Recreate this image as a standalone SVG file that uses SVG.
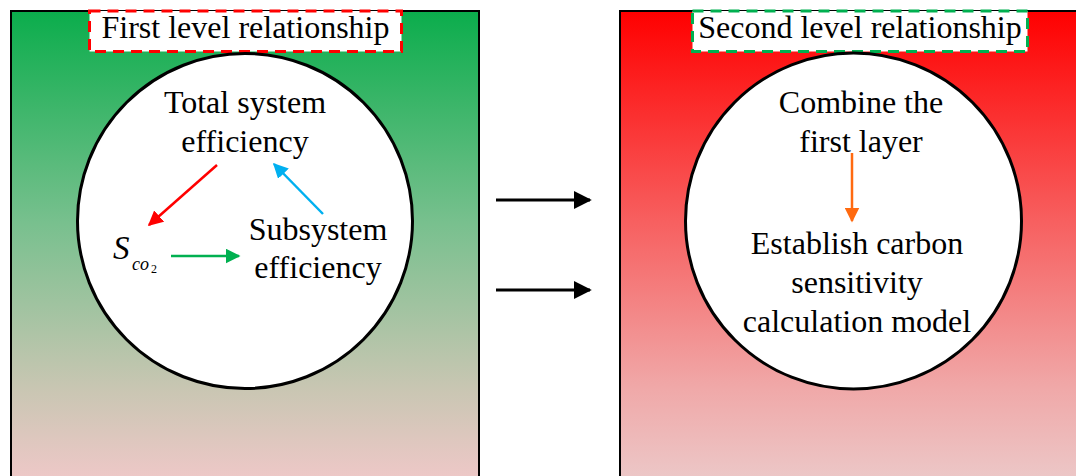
<svg xmlns="http://www.w3.org/2000/svg" width="1076" height="476" viewBox="0 0 1076 476">
<style>
.t{font-family:"Liberation Serif","Times New Roman",serif;font-size:32px;fill:#000;text-anchor:middle}
.it{font-family:"Liberation Serif","Times New Roman",serif;font-style:italic;fill:#000}
.panel{stroke:#000;stroke-width:2}
.circ{fill:#fff;stroke:#000;stroke-width:3}
.lbl{fill:#fff;stroke-width:3;stroke-dasharray:11 7}
.ar{stroke-width:2.5;fill:none}
.bk{stroke-width:3;fill:none;stroke:#000}
</style>
<defs>
<linearGradient id="gG" x1="0" y1="0" x2="0" y2="1">
<stop offset="0" stop-color="#0bad4c"/>
<stop offset="0.45" stop-color="#78c08e"/>
<stop offset="0.8" stop-color="#c8c6b2"/>
<stop offset="1" stop-color="#efc8c8"/>
</linearGradient>
<linearGradient id="gR" x1="0" y1="0" x2="0" y2="1">
<stop offset="0" stop-color="#ff0000"/>
<stop offset="0.45" stop-color="#f76060"/>
<stop offset="0.8" stop-color="#f0a8a8"/>
<stop offset="1" stop-color="#ecc8c8"/>
</linearGradient>
<marker id="mRed" viewBox="0 0 10 10" refX="9" refY="5" markerWidth="6" markerHeight="6" markerUnits="strokeWidth" orient="auto"><path d="M0,0 L10,5 L0,10 z" fill="#ff0000"/></marker>
<marker id="mBlue" viewBox="0 0 10 10" refX="9" refY="5" markerWidth="6" markerHeight="6" markerUnits="strokeWidth" orient="auto"><path d="M0,0 L10,5 L0,10 z" fill="#00b0f0"/></marker>
<marker id="mGreen" viewBox="0 0 10 10" refX="9" refY="5" markerWidth="6" markerHeight="6" markerUnits="strokeWidth" orient="auto"><path d="M0,0 L10,5 L0,10 z" fill="#00b050"/></marker>
<marker id="mOrange" viewBox="0 0 10 10" refX="9" refY="5" markerWidth="6" markerHeight="6" markerUnits="strokeWidth" orient="auto"><path d="M0,0 L10,5 L0,10 z" fill="#ff6a10"/></marker>
<marker id="mBlack" viewBox="0 0 10 10" refX="9" refY="5" markerWidth="6" markerHeight="6" markerUnits="strokeWidth" orient="auto"><path d="M0,0 L10,5 L0,10 z" fill="#000"/></marker>
</defs>

<g id="left-panel">
<rect class="panel" x="11" y="11" width="468" height="470" fill="url(#gG)"/>
<rect class="lbl" x="89.5" y="11" width="312" height="40.5" stroke="#ff0000"/>
<text class="t" x="245.5" y="38">First level relationship</text>
<circle class="circ" cx="245" cy="221" r="167.5"/>
</g>

<g id="node-total">
<text class="t" x="245" y="113">Total system</text>
<text class="t" x="245" y="152">efficiency</text>
</g>
<g id="node-sub">
<text class="t" x="318" y="240">Subsystem</text>
<text class="t" x="318" y="278">efficiency</text>
</g>
<g id="node-sco2">
<text class="it" x="113" y="259" font-size="33">S</text>
<text class="it" x="132" y="270" font-size="18">co</text>
<text x="151" y="273" style="font-family:'Liberation Serif','Times New Roman',serif;font-size:12px">2</text>
</g>

<g id="right-panel">
<rect class="panel" x="620" y="11" width="470" height="470" fill="url(#gR)"/>
<rect class="lbl" x="692.5" y="11" width="335" height="40.5" stroke="#00b050"/>
<text class="t" x="860" y="38">Second level relationship</text>
<circle class="circ" cx="853.5" cy="221" r="168"/>
</g>

<g id="node-combine">
<text class="t" x="861" y="113">Combine the</text>
<text class="t" x="861" y="152">first layer</text>
</g>
<g id="node-establish">
<text class="t" x="857" y="254">Establish carbon</text>
<text class="t" x="857" y="293">sensitivity</text>
<text class="t" x="857" y="332">calculation model</text>
</g>

<g id="connectors">
<line class="ar" x1="217" y1="165" x2="149" y2="225" stroke="#ff0000" marker-end="url(#mRed)"/>
<line class="ar" x1="323" y1="214" x2="274" y2="164" stroke="#00b0f0" marker-end="url(#mBlue)"/>
<line class="ar" x1="171" y1="256" x2="239" y2="256" stroke="#00b050" marker-end="url(#mGreen)"/>
<line class="ar" x1="852" y1="153" x2="852" y2="221" stroke="#ff6a10" marker-end="url(#mOrange)"/>
<line class="bk" x1="496" y1="200" x2="590" y2="200" marker-end="url(#mBlack)"/>
<line class="bk" x1="496" y1="290" x2="590" y2="290" marker-end="url(#mBlack)"/>
</g>
</svg>
